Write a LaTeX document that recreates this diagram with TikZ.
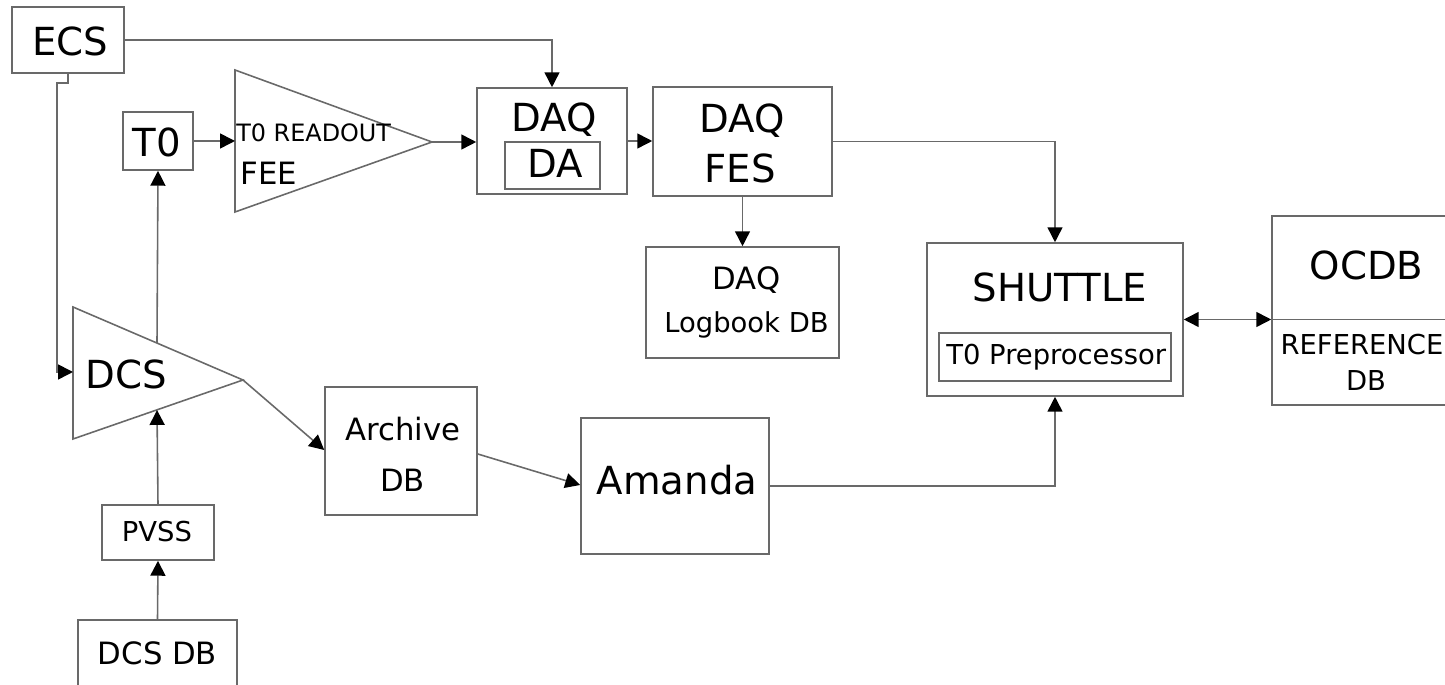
\documentclass[tikz,border=0pt]{standalone}
\usepackage{fontspec}
\setmainfont{DejaVu Sans}
\usetikzlibrary{arrows.meta}
\definecolor{linegray}{RGB}{105,105,105}
\tikzset{
  box/.style={draw=linegray, line width=0.9pt, rectangle, inner sep=0pt, fill=none},
  txt/.style={inner sep=0pt, text=black, anchor=base},
  big/.style={font=\fontsize{22pt}{24pt}\selectfont},
  mid/.style={font=\fontsize{17.5pt}{19pt}\selectfont},
  sml/.style={font=\fontsize{15.6pt}{17pt}\selectfont},
  tny/.style={font=\fontsize{13.6pt}{15pt}\selectfont},
  conn/.style={draw=linegray, line width=0.9pt},
  arr/.style={conn, -{Triangle[length=8.5pt,width=8.5pt,color=black]}},
  darr/.style={conn, {Triangle[length=8.5pt,width=8.5pt,color=black]}-{Triangle[length=8.5pt,width=8.5pt,color=black]}},
}
\begin{document}
\begin{tikzpicture}[x=0.02cm, y=-0.02cm]
\useasboundingbox (0,0) rectangle (1445,685);
\clip (0,0) rectangle (1445,685);
% boxes
\node[box, minimum width=2.24cm, minimum height=1.32cm] (ECS) at (68,40) {};
\node[box, minimum width=1.40cm, minimum height=1.16cm] (T0) at (158,141) {};
\node[box, minimum width=3.00cm, minimum height=2.12cm] (DAQ) at (552,141) {};
\node[box, minimum width=1.90cm, minimum height=0.94cm] (DA) at (552.5,165.5) {};
\node[box, minimum width=3.58cm, minimum height=2.18cm] (FES) at (742.5,141.5) {};
\node[box, minimum width=3.86cm, minimum height=2.22cm] (LOG) at (742.5,302.5) {};
\node[box, minimum width=5.12cm, minimum height=3.06cm] (SHU) at (1055,319.5) {};
\node[box, minimum width=4.64cm, minimum height=0.96cm] (PRE) at (1055,357) {};
\node[box, minimum width=3.80cm, minimum height=3.78cm] (OCDB) at (1367,310.5) {};
\node[box, minimum width=3.04cm, minimum height=2.56cm] (ARC) at (401,451) {};
\node[box, minimum width=3.76cm, minimum height=2.72cm] (AMA) at (675,486) {};
\node[box, minimum width=2.24cm, minimum height=1.10cm] (PVSS) at (158,532.5) {};
\node[box, minimum width=3.18cm, minimum height=1.34cm] (DCSDB) at (157.5,653.5) {};
% triangles
\coordinate (feeT) at (235,70);
\coordinate (feeB) at (235,212);
\coordinate (feeA) at (432,142);
\coordinate (feeIn) at (235,141);
\draw[conn] (feeT) -- (feeA) -- (feeB) -- cycle;
\coordinate (dcsT) at (73,307);
\coordinate (dcsB) at (73,439);
\coordinate (dcsA) at (243,380);
\coordinate (dcsIn) at (73,372);
\coordinate (dcsTop) at (157,343);
\coordinate (dcsBot) at (157,410);
\draw[conn] (dcsT) -- (dcsA) -- (dcsB) -- cycle;
% texts
\node[txt, big] (tECS) at (70,56) {ECS};
\node[txt, big] (tT0) at (157,157) {T0};
\node[txt, tny, anchor=base west] (tRO) at (236,142) {T0 READOUT};
\node[txt, mid, anchor=base west] (tFEE) at (240,185) {FEE};
\node[txt, big] (tDAQ1) at (554.5,132) {DAQ};
\node[txt, big] (tDA) at (555.5,178) {DA};
\node[txt, big] (tDAQ2) at (742.5,133) {DAQ};
\node[txt, big] (tFES) at (740,183) {FES};
\node[txt, mid] (tDAQ3) at (746.5,290) {DAQ};
\node[txt, sml] (tLOG) at (746.5,333) {Logbook DB};
\node[txt, big] (tSHU) at (1060,302) {SHUTTLE};
\node[txt, sml, anchor=base west] (tPRE) at (946,365) {T0 Preprocessor};
\node[txt, big] (tOCDB) at (1366.5,280) {OCDB};
\node[txt, sml] (tREF) at (1362,355) {REFERENCE};
\node[txt, sml] (tRDB) at (1366,391) {DB};
\node[txt, big, anchor=base west] (tDCS) at (85,389) {DCS};
\node[txt, sml] (tPVSS) at (157,542) {PVSS};
\node[txt, mid] (tDCSDB) at (157.5,665) {DCS DB};
\node[txt, mid] (tARC) at (403,441) {Archive};
\node[txt, mid] (tADB) at (402.5,492) {DB};
\node[txt, big] (tAMA) at (677,495) {Amanda};
% connectors
\draw[arr] (ECS.east) -| (DAQ.north);
\draw[arr] (ECS.south) |- (57,83) |- (dcsIn);
\draw[arr] (T0.east) -- (feeIn);
\draw[arr] (feeA) -- (DAQ.west |- feeA);
\draw[arr] (DAQ.east) -- (FES.west |- DAQ.east);
\draw[arr] (FES.south) -- (LOG.north);
\draw[arr] (FES.east) -| (SHU.north);
\draw[darr] (SHU.east) -- (OCDB.west |- SHU.east);
\draw[conn] (OCDB.west |- SHU.east) -- (OCDB.east |- SHU.east);
\draw[arr] (dcsTop) -- (T0.south);
\draw[arr] (PVSS.north) -- (dcsBot);
\draw[arr] (DCSDB.north) -- (PVSS.south);
\draw[arr] (dcsA) -- (ARC.west |- 0,450);
\draw[arr] (ARC.east |- 0,454) -- (AMA.west |- 0,485);
\draw[arr] (AMA.east) -| (SHU.south);
\end{tikzpicture}
\end{document}
